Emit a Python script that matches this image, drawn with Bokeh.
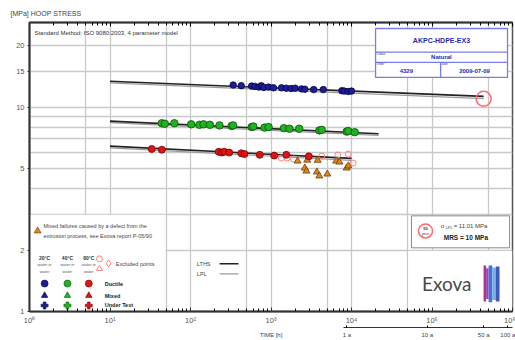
from bokeh.plotting import figure
from bokeh.models import LogAxis, FixedTicker, Label, Range1d
from bokeh.embed import file_html
from bokeh.resources import INLINE

# ---------------- data (hours, MPa) ----------------
ductile20_t = [339, 427, 575, 631, 708, 759, 813, 933, 1072, 1349, 1549, 1778, 1995, 2399, 2630, 3388, 4467, 7586, 8128, 9120, 10000]
ductile20_s = [12.85, 12.75, 12.7, 12.65, 12.55, 12.75, 12.5, 12.55, 12.45, 12.45, 12.4, 12.35, 12.4, 12.3, 12.25, 12.2, 12.2, 12.05, 12.0, 11.95, 12.0]

ductile40_t = [44, 48, 63, 102, 129, 145, 174, 229, 324, 339, 575, 603, 832, 933, 1445, 1698, 2239, 3981, 4266, 8710, 9120, 10965]
ductile40_s = [8.35, 8.30, 8.35, 8.25, 8.20, 8.25, 8.20, 8.15, 8.10, 8.15, 8.00, 8.05, 7.95, 8.00, 7.90, 7.85, 7.85, 7.70, 7.75, 7.60, 7.65, 7.55]

ductile80_t = [33, 44, 224, 245, 263, 302, 427, 468, 724, 1096, 1549, 2951]
ductile80_s = [6.25, 6.20, 6.05, 6.00, 6.05, 6.00, 5.95, 5.90, 5.85, 5.80, 5.85, 5.75]

mixed80_t = [2138, 2630, 2754, 2818, 3715, 3802, 3981, 5012, 6457, 7079, 8710, 9120]
mixed80_s = [5.45, 5.04, 4.87, 5.51, 4.82, 5.50, 4.61, 4.71, 5.45, 5.39, 5.04, 5.16]

excluded_t = [1349, 1585, 1905, 4266, 6761, 9120, 10471]
excluded_s = [5.64, 5.64, 5.58, 5.77, 5.84, 5.90, 5.33]

lths20_t = [10, 438000]
lths20_s = [13.4, 11.3]
lpl20_t = [10, 438000]
lpl20_s = [13.15, 11.01]
lths40_t = [10, 21700]
lths40_s = [8.55, 7.42]
lpl40_t = [10, 21700]
lpl40_s = [8.40, 7.28]
lths80_t = [10, 10000]
lths80_s = [6.45, 5.62]
lpl80_t = [10, 10000]
lpl80_s = [6.33, 5.50]

mrs_t = [438000]
mrs_s = [11.01]

x_decades = [1, 10, 100, 1000, 10000, 100000, 1000000]
x_labels = ["10⁰", "10¹", "10²", "10³", "10⁴", "10⁵", "10⁶"]
y_ticks = [1, 2, 5, 10, 15, 20]
y_labels = ["1", "2", "5", "10", "15", "20"]
year_ticks = [8760, 87600, 438000, 876000]
year_labels = ["1 a", "10 a", "50 a", "100 a"]
time_label_pos = 1000

FONT = "Liberation Sans"
BLUE, GREEN, RED, ORANGE, PINK = "#1c1c9c", "#1fb41f", "#dd1515", "#e0861c", "#ff7f7f"

x_minor = [k * d for d in x_decades[:-1] for k in range(2, 10)]
x_grid = [v for d in x_decades for v in (d, 5 * d) if v <= 1000000]
y_grid = [2, 3, 4, 5, 6, 7, 8, 9, 10, 15, 20]

p = figure(width=515, height=340, x_axis_type="log", y_axis_type="log",
           x_range=Range1d(1, 1e6), y_range=Range1d(1, 26),
           output_backend="svg", toolbar_location=None,
           min_border_left=29, min_border_right=3, min_border_top=22, min_border_bottom=28)
p.background_fill_color = "white"
p.outline_line_color = "#555555"
p.outline_line_width = 1.5

p.title.text = "[MPa] HOOP STRESS"
p.title.text_font = FONT
p.title.text_font_size = "7px"
p.title.text_font_style = "normal"
p.title.text_color = "#444444"
p.title.align = "left"
p.title.offset = -19
p.title.standoff = 2

# axes
p.xaxis.ticker = FixedTicker(ticks=x_decades, minor_ticks=x_minor)
p.xaxis.major_label_overrides = dict(zip(x_decades, x_labels))
p.yaxis.ticker = FixedTicker(ticks=y_ticks, minor_ticks=[])
p.yaxis.major_label_overrides = dict(zip(y_ticks, y_labels))
for ax in (p.xaxis[0], p.yaxis[0]):
    ax.axis_line_width = 2
    ax.axis_line_color = "#333333"
    ax.major_label_text_font = FONT
    ax.major_label_text_font_size = "7.5px"
    ax.major_label_text_color = "#555555"
    ax.major_tick_line_color = "#333333"
p.xaxis.major_tick_in = 4
p.xaxis.major_tick_out = 0
p.xaxis.minor_tick_in = 3
p.xaxis.minor_tick_out = 0
p.xaxis.major_label_standoff = 4
p.yaxis.major_tick_in = 0
p.yaxis.major_tick_out = 2
p.yaxis.minor_tick_out = 0
p.yaxis.major_label_standoff = 3

# years line (1 a ... 100 a) directly under the time labels
years_line = LogAxis(ticker=FixedTicker(ticks=year_ticks, minor_ticks=[]), bounds=(8000, 1e6),
                     major_label_overrides={t: " " for t in year_ticks},
                     axis_line_color="#333333", axis_line_width=1,
                     major_tick_in=2, major_tick_out=0, major_label_standoff=0,
                     major_label_text_font_size="1px")
p.add_layout(years_line, "below")

# row with "TIME [h]" and the year labels
lab_ticks = [time_label_pos] + year_ticks
lab_texts = ["TIME [h]"] + year_labels
years_labels = LogAxis(ticker=FixedTicker(ticks=lab_ticks, minor_ticks=[]), bounds=(1, 1e6),
                       major_label_overrides=dict(zip(lab_ticks, lab_texts)),
                       axis_line_color=None, major_tick_line_color=None,
                       major_tick_in=0, major_tick_out=0, major_label_standoff=0,
                       major_label_text_font=FONT, major_label_text_font_size="6px",
                       major_label_text_color="#444444")
p.add_layout(years_labels, "below")

top_axis = LogAxis(ticker=FixedTicker(ticks=x_decades, minor_ticks=x_minor),
                   axis_line_color="#333333", axis_line_width=2,
                   major_tick_in=4, major_tick_out=0, minor_tick_in=3, minor_tick_out=0,
                   major_label_overrides={d: " " for d in x_decades},
                   major_label_text_font_size="2px", major_label_standoff=0)
p.add_layout(top_axis, "above")

p.xgrid.ticker = FixedTicker(ticks=x_grid, minor_ticks=[])
p.ygrid.ticker = FixedTicker(ticks=y_grid, minor_ticks=[])
for g in (p.xgrid[0], p.ygrid[0]):
    g.grid_line_color = "#c9c9c9"
    g.grid_line_width = 1.3

# white panels (legend area, logo area)
p.quad(left=[1], right=[49], bottom=[1], top=[2.98], fill_color="white", line_color=None)
p.quad(left=[51000], right=[1e6], bottom=[1], top=[1.98], fill_color="white", line_color=None)

# regression lines
for t, s, c, w in ((lpl20_t, lpl20_s, "#9a9a9a", 1.2), (lths20_t, lths20_s, "#222222", 1.6),
                   (lpl40_t, lpl40_s, "#9a9a9a", 1.2), (lths40_t, lths40_s, "#222222", 1.6),
                   (lpl80_t, lpl80_s, "#9a9a9a", 1.2), (lths80_t, lths80_s, "#222222", 1.6)):
    p.line(t, s, line_color=c, line_width=w)

# data points
p.scatter(excluded_t, excluded_s, marker="circle", size=6, fill_color=None, line_color=PINK, line_width=1)
p.scatter(mixed80_t, mixed80_s, marker="triangle", size=7, fill_color=ORANGE, line_color="#6b3d05", line_width=0.8)
p.scatter(ductile80_t, ductile80_s, marker="circle", size=7, fill_color=RED, line_color="#7a0000", line_width=0.8)
p.scatter(ductile40_t, ductile40_s, marker="circle", size=7.5, fill_color=GREEN, line_color="#0b4f0b", line_width=0.8)
p.scatter(ductile20_t, ductile20_s, marker="circle", size=6.5, fill_color=BLUE, line_color="#05053a", line_width=0.8)
p.scatter(mrs_t, mrs_s, marker="circle", size=15, fill_color=None, line_color="#ff6a6a", line_width=1.5)


def txt(x, y, s, size, color="#333333", bold=False, align="left", baseline="middle", font=FONT, xo=0, yo=0):
    p.add_layout(Label(x=x, y=y, text=s, text_font=font, text_font_size=size, text_color=color,
                       text_font_style="bold" if bold else "normal", text_align=align,
                       text_baseline=baseline, x_offset=xo, y_offset=yo))


txt(1.15, 23.0, "Standard Method: ISO 9080:2003, 4 parameter model", "6px", color="#333333")

# header box
p.quad(left=[19900], right=[867000], bottom=[14.0], top=[24.3], fill_color="white",
       line_color="#7b7bef", line_width=1.3)
p.segment(x0=[19900, 19900], x1=[867000, 867000], y0=[18.6, 16.6], y1=[18.6, 16.6],
          line_color="#7b7bef", line_width=1.3)
p.segment(x0=[128000], x1=[128000], y0=[14.0], y1=[16.6], line_color="#7b7bef", line_width=1.3)
BOXTXT = "#2a2aa8"
txt(131000, 21.2, "AKPC-HDPE-EX3", "7px", color=BOXTXT, bold=True, align="center")
txt(131000, 17.55, "Natural", "6px", color=BOXTXT, bold=True, align="center")
txt(48000, 15.1, "4329", "6px", color=BOXTXT, bold=True, align="center")
txt(337000, 15.1, "2009-07-09", "6px", color=BOXTXT, bold=True, align="center")
txt(20500, 18.3, "Colour", "3px", color=BOXTXT)
txt(20500, 16.35, "Order", "3px", color=BOXTXT)
txt(131000, 16.35, "Date", "3px", color=BOXTXT)

# left legend
p.scatter([1.26], [2.48], marker="triangle", size=7, fill_color=ORANGE, line_color="#6b3d05", line_width=0.6)
txt(1.49, 2.63, "Mixed failures caused by a defect from the", "5.5px", color="#444444")
txt(1.49, 2.35, "extrusion process, see Exova report P-05/90", "5.5px", color="#444444")
col_x = [1.54, 2.96, 5.45]
for cx, head, cols in zip(col_x, ["20°C", "40°C", "80°C"], [BLUE, GREEN, RED]):
    txt(cx, 1.83, head, "5px", color="#333333", bold=True, align="center")
    txt(cx, 1.69, "water in", "4px", color="#555555", align="center")
    txt(cx, 1.575, "water", "4px", color="#555555", align="center")
    edge = {BLUE: "#05053a", GREEN: "#0b4f0b", RED: "#7a0000"}[cols]
    p.scatter([cx], [1.37], marker="circle", size=7, fill_color=cols, line_color=edge, line_width=0.6)
    p.scatter([cx], [1.197], marker="triangle", size=6.5, fill_color=cols, line_color=edge, line_width=0.6)
    p.scatter([cx], [1.07], marker="plus", size=7, fill_color=cols, line_color=edge, line_width=0.6)
txt(8.6, 1.37, "Ductile", "5.5px", color="#222222", bold=True)
txt(8.6, 1.197, "Mixed", "5.5px", color="#222222", bold=True)
txt(8.6, 1.07, "Under Test", "5.5px", color="#222222", bold=True)
p.scatter([7.4], [1.81], marker="circle", size=6, fill_color=None, line_color=PINK, line_width=1)
p.scatter([7.4], [1.62], marker="triangle", size=6, fill_color=None, line_color=PINK, line_width=1)
p.scatter([9.6], [1.72], marker="diamond", size=7, fill_color=None, line_color=PINK, line_width=1)
txt(11.8, 1.715, "Excluded points", "5.5px", color="#444444")

# LTHS / LPL legend
txt(120, 1.715, "LTHS", "5.5px", color="#444444")
txt(120, 1.53, "LPL", "5.5px", color="#444444")
p.line([230, 395], [1.715, 1.715], line_color="#222222", line_width=1.5)
p.line([230, 395], [1.53, 1.53], line_color="#9a9a9a", line_width=1.2)

# MRS box
p.quad(left=[55600], right=[920000], bottom=[2.05], top=[2.94], fill_color="white",
       line_color="#8a8a8a", line_width=1)
p.scatter([83000], [2.48], marker="circle", size=14, fill_color="white", line_color="#ff6a6a", line_width=1.5)
txt(83000, 2.48, "50", "4px", color="#333333", bold=True, align="center", yo=2.5)
txt(83000, 2.48, "years", "3px", color="#333333", align="center", yo=-3)
txt(128000, 2.63, "σ", "6px", color="#444444")
txt(128000, 2.63, "LPL", "4px", color="#444444", xo=5, yo=-2)
txt(128000, 2.63, "= 11.01 MPa", "6px", color="#444444", xo=13)
txt(140000, 2.30, "MRS = 10 MPa", "6.5px", color="#222222", bold=True)

# logo
txt(75000, 1.37, "Exova", "19px", color="#4a4a4a", font="Lato")
bars = [(437000, 470000, 1.12, 1.68, "#b83388"), (470000, 505000, 1.15, 1.63, "#8a4fb8"),
        (505000, 560000, 1.11, 1.68, "#4f6fd6"), (560000, 620000, 1.14, 1.64, "#7aaee6"),
        (620000, 690000, 1.12, 1.66, "#3c5bbd")]
p.quad(left=[b[0] for b in bars], right=[b[1] for b in bars], bottom=[b[2] for b in bars],
       top=[b[3] for b in bars], fill_color=[b[4] for b in bars], line_color=None)

open("out.html", "w").write(file_html(p, INLINE))
